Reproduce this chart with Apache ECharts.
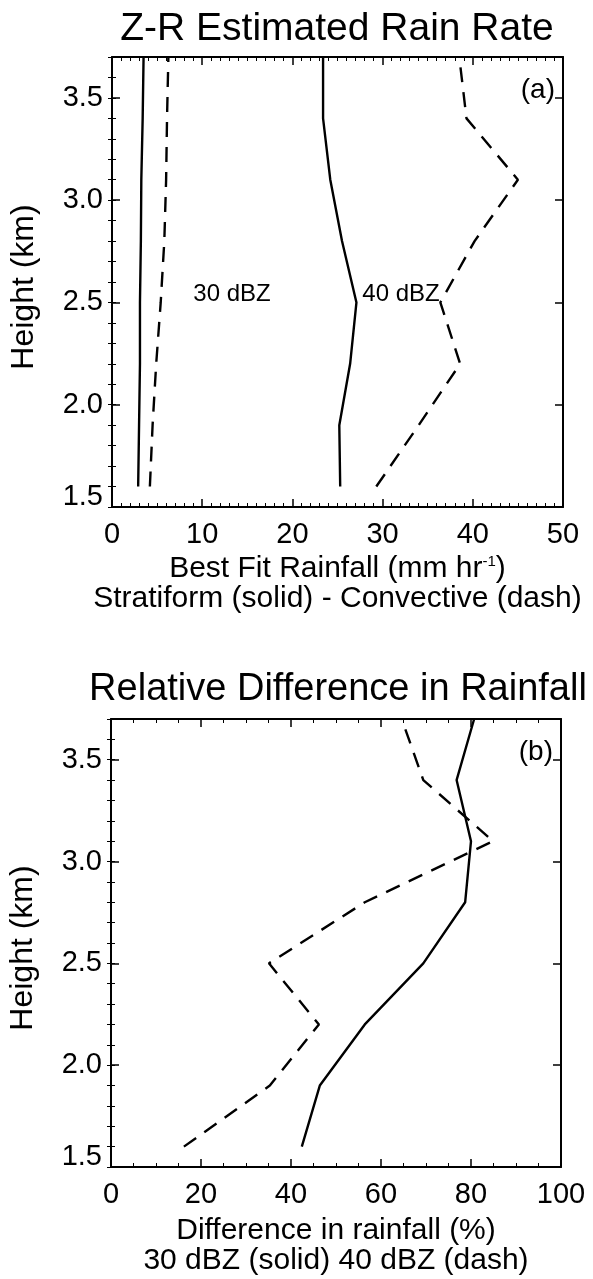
<!DOCTYPE html>
<html lang="en">
<head>
<meta charset="UTF-8">
<script src="https://cdn.jsdelivr.net/npm/echarts@6/dist/echarts.min.js"></script>
<style>
    html, body, #main {
        width: 100%;
        height: 100%;
        margin: 0;
        padding: 0;
        background: #fff;
    }
</style>
<title>Z-R Estimated Rain Rate</title>
</head>
<body>
<div id="main"></div>
<script>
// heights (km) of every profile point
var heights = [1.6, 1.9, 2.2, 2.5, 2.8, 3.1, 3.4, 3.7];

// (a) best fit rainfall, mm/hr
var strat30 = [2.9, 3.0, 3.1, 3.1, 3.2, 3.25, 3.4, 3.5];
var conv30 = [4.2, 4.5, 4.9, 5.4, 5.8, 6.0, 6.1, 6.25];
var strat40 = [25.3, 25.2, 26.4, 27.1, 25.5, 24.2, 23.4, 23.4];
var conv40 = [29.3, 34.0, 38.6, 36.4, 40.2, 45.0, 39.3, 38.5];

// (b) relative difference, %
var diff30 = [42.4, 46.4, 56.4, 69.4, 78.7, 80.0, 76.8, 80.7];
var diff40 = [16.2, 35.3, 46.2, 35.1, 56.4, 84.9, 69.4, 64.6];

var FONT = '"Liberation Sans", Arial, Helvetica, sans-serif';
var BLACK = '#000';
var DASH = [15, 10];

function pts(vals) {
    return vals.map(function (v, i) { return [v, heights[i]]; });
}

function xAxes(grid, max, step, minorSplit, name, gap) {
    var base = {
        gridIndex: grid, type: 'value', min: 0, max: max, interval: step,
        axisLine: {show: true, onZero: false, lineStyle: {color: BLACK, width: 2}},
        axisTick: {show: true, inside: true, length: 8, lineStyle: {color: BLACK, width: 1.5}},
        minorTick: {show: true, splitNumber: minorSplit, length: 4, lineStyle: {color: BLACK, width: 1}},
        splitLine: {show: false}
    };
    var bottom = Object.assign({}, base, {
        position: 'bottom',
        axisLabel: {margin: 13, fontSize: 29, color: BLACK, fontFamily: FONT},
        name: name, nameLocation: 'middle', nameGap: gap,
        nameTextStyle: {
            fontSize: 30, color: BLACK, fontFamily: FONT, lineHeight: 30,
            rich: {sup: {fontSize: 15, fontFamily: FONT, color: BLACK, verticalAlign: 'top'}}
        }
    });
    var top = Object.assign({}, base, {position: 'top', axisLabel: {show: false}});
    return [bottom, top];
}

function yAxes(grid) {
    var line = {show: true, onZero: false, lineStyle: {color: BLACK, width: 2}};
    var major = {
        gridIndex: grid, type: 'value', min: 1.5, max: 3.7, interval: 0.5,
        axisLine: line,
        axisTick: {show: true, inside: true, length: 8, lineStyle: {color: BLACK, width: 1.5}},
        splitLine: {show: false}
    };
    var minor = {
        gridIndex: grid, type: 'value', min: 1.5, max: 3.7, interval: 0.1,
        axisLine: {show: false},
        axisTick: {show: true, inside: true, length: 4, lineStyle: {color: BLACK, width: 1}},
        axisLabel: {show: false},
        splitLine: {show: false}
    };
    return [
        Object.assign({}, major, {
            position: 'left',
            axisLabel: {
                margin: 9, fontSize: 29, lineHeight: 20, color: BLACK, fontFamily: FONT,
                showMaxLabel: false, verticalAlignMinLabel: 'bottom',
                formatter: function (v) { return v.toFixed(1); }
            },
            name: 'Height (km)', nameLocation: 'middle', nameGap: 72,
            nameTextStyle: {fontSize: 32, color: BLACK, fontFamily: FONT, padding: [0, 10, 0, 0]}
        }),
        Object.assign({}, minor, {position: 'left'}),
        Object.assign({}, major, {position: 'right', axisLabel: {show: false}}),
        Object.assign({}, minor, {position: 'right'})
    ];
}

function profile(data, xi, yi, dashed) {
    return {
        type: 'line', xAxisIndex: xi, yAxisIndex: yi,
        data: pts(data), symbol: 'none', silent: true,
        lineStyle: {color: BLACK, width: 2.4, type: dashed ? DASH : 'solid'}
    };
}

function label(text, x, y, size, align) {
    return {
        type: 'text', x: x, y: y, silent: true,
        style: {text: text, fill: BLACK, font: size + 'px ' + FONT,
            textAlign: align || 'center', textVerticalAlign: 'middle'}
    };
}

var chart = echarts.init(document.getElementById('main'));
chart.setOption({
    animation: false,
    backgroundColor: '#fff',
    grid: [
        {left: 112, top: 57, width: 451, height: 450, outerBoundsMode: 'none'},
        {left: 111, top: 719, width: 450, height: 448, outerBoundsMode: 'none'}
    ],
    xAxis: xAxes(0, 50, 10, 10,
        'Best Fit Rainfall (mm hr{sup|-1})\nStratiform (solid) - Convective (dash)', 47)
        .concat(xAxes(1, 100, 20, 4,
            'Difference in rainfall (%)\n30 dBZ (solid) 40 dBZ (dash)', 49)),
    yAxis: yAxes(0).concat(yAxes(1)),
    series: [
        profile(strat30, 0, 0, false),
        profile(conv30, 0, 0, true),
        profile(strat40, 0, 0, false),
        profile(conv40, 0, 0, true),
        profile(diff30, 2, 4, false),
        profile(diff40, 2, 4, true)
    ],
    graphic: [
        label('Z-R Estimated Rain Rate', 337, 29, 39),
        label('Relative Difference in Rainfall', 338, 690, 38),
        label('(a)', 555, 90, 28, 'right'),
        label('(b)', 553, 752, 28, 'right'),
        label('30 dBZ', 232, 294, 24),
        label('40 dBZ', 401, 294, 24)
    ]
});
</script>
</body>
</html>
